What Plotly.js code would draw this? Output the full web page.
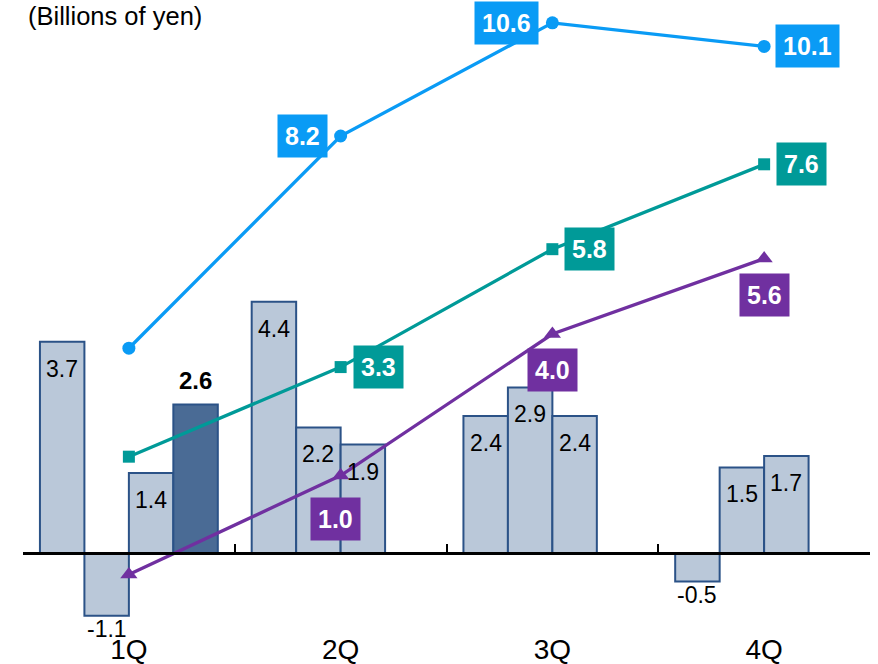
<!DOCTYPE html>
<html>
<head>
<meta charset="utf-8">
<script src="https://cdn.plot.ly/plotly-3.0.1.min.js"></script>
<style>
  html, body { margin: 0; padding: 0; background: #ffffff; }
  #chart { width: 878px; height: 664px; }
</style>
</head>
<body>
<div id="chart"></div>
<script>
// Quarterly results (billions of yen): three past fiscal years plus the current year
const quarters = ['1Q', '2Q', '3Q', '4Q'];

const yearA = [3.7, 4.4, 2.4, -0.5];
const yearB = [-1.1, 2.2, 2.9, 1.5];
const yearC = [1.4, 1.9, 2.4, 1.7];
const yearCurrent = [2.6, null, null, null];

// Cumulative totals by quarter
const cumA = [3.7, 8.2, 10.6, 10.1];
const cumC = [1.4, 3.3, 5.8, 7.6];
const cumB = [-1.1, 1.0, 4.0, 5.6];

const unitNote = '(Billions of yen)';

// ---- styling -------------------------------------------------------------
const FONT = 'Liberation Sans, Arial, sans-serif';
const BAR_FILL = '#BAC8D9';
const BAR_EDGE = '#2B5287';
const BAR_CURRENT = '#4A6B95';
const BLUE = '#0A9BF5';
const TEAL = '#009A98';
const PURPLE = '#7030A0';

const BAR_GAP = 0.16;
const SLOTS = 4;
const slotWidth = (1 - BAR_GAP) / SLOTS;

// value ranges of the two (hidden) vertical axes
const yRange = [-1.313, 9.51];
const y2Range = [-2.233, 10.872];

const barSeries = [
  { values: yearA, fill: BAR_FILL },
  { values: yearB, fill: BAR_FILL },
  { values: yearC, fill: BAR_FILL },
  { values: yearCurrent, fill: BAR_CURRENT, current: true }
];

const lineSeries = [
  { values: cumA, color: BLUE, symbol: 'circle', size: 13 },
  { values: cumC, color: TEAL, symbol: 'square', size: 12 },
  { values: cumB, color: PURPLE, symbol: 'triangle-up', size: 15 }
];

// where each cumulative label sits relative to its point (1Q points carry no label)
const lineLabelPlacement = [
  [null,
   { xanchor: 'right', yanchor: 'middle', xshift: -13, yshift: 0 },
   { xanchor: 'right', yanchor: 'middle', xshift: -13, yshift: 0 },
   { xanchor: 'left', yanchor: 'middle', xshift: 11, yshift: 0 }],
  [null,
   { xanchor: 'left', yanchor: 'middle', xshift: 12, yshift: 0 },
   { xanchor: 'left', yanchor: 'middle', xshift: 12, yshift: 0 },
   { xanchor: 'left', yanchor: 'middle', xshift: 12, yshift: 0 }],
  [null,
   { xanchor: 'center', yanchor: 'top', xshift: -5, yshift: -21 },
   { xanchor: 'center', yanchor: 'top', xshift: 0, yshift: -14 },
   { xanchor: 'center', yanchor: 'top', xshift: 0, yshift: -14 }]
];

const traces = [];
const annotations = [];

barSeries.forEach((s, slot) => {
  traces.push({
    type: 'bar',
    x: quarters,
    y: s.values,
    xaxis: 'x',
    yaxis: 'y',
    marker: { color: s.fill, line: { color: BAR_EDGE, width: 2 } },
    hoverinfo: 'skip'
  });
  s.values.forEach((v, qi) => {
    if (v === null) return;
    const xPos = qi + (slot - (SLOTS - 1) / 2) * slotWidth;
    let ann;
    if (s.current) {
      ann = { yanchor: 'bottom', yshift: 9, font: { family: FONT, size: 24, color: '#000' }, text: '<b>' + v.toFixed(1) + '</b>' };
    } else if (v >= 0) {
      ann = { yanchor: 'top', yshift: -12, font: { family: FONT, size: 23, color: '#000' }, text: v.toFixed(1) };
    } else {
      ann = { yanchor: 'top', yshift: 2, font: { family: FONT, size: 23, color: '#000' }, text: v.toFixed(1) };
    }
    annotations.push(Object.assign({
      xref: 'x', yref: 'y', x: xPos, y: v, xanchor: 'center',
      showarrow: false, borderpad: 1
    }, ann));
  });
});

// zero line with quarter dividers, on an overlay axis sitting at y = 0
traces.push({
  type: 'scatter', mode: 'markers',
  x: [-0.5, 3.5], y: [0, 0],
  xaxis: 'x2', yaxis: 'y',
  marker: { opacity: 0, size: 1 },
  hoverinfo: 'skip'
});

lineSeries.forEach((s, li) => {
  traces.push({
    type: 'scatter',
    mode: 'lines+markers',
    x: quarters,
    y: s.values,
    xaxis: 'x',
    yaxis: 'y2',
    line: { color: s.color, width: 3.3 },
    marker: { color: s.color, symbol: s.symbol, size: s.size },
    hoverinfo: 'skip'
  });
  s.values.forEach((v, qi) => {
    const p = lineLabelPlacement[li][qi];
    if (!p) return;
    annotations.push({
      xref: 'x', yref: 'y2', x: qi, y: v,
      xanchor: p.xanchor, yanchor: p.yanchor,
      xshift: p.xshift, yshift: p.yshift,
      text: '<b>' + v.toFixed(1) + '</b>',
      font: { family: FONT, size: 25, color: '#ffffff' },
      bgcolor: s.color,
      borderpad: 7,
      showarrow: false
    });
  });
});

annotations.push({
  xref: 'paper', yref: 'paper', x: 0, y: 1,
  xanchor: 'left', yanchor: 'top', xshift: 3, yshift: 10,
  text: unitNote,
  font: { family: FONT, size: 25.5, color: '#000' },
  showarrow: false
});

const zeroPosition = (0 - yRange[0]) / (yRange[1] - yRange[0]);

const layout = {
  width: 878,
  height: 664,
  margin: { l: 23, r: 8, t: 10, b: 36 },
  paper_bgcolor: '#ffffff',
  plot_bgcolor: '#ffffff',
  showlegend: false,
  hovermode: false,
  barmode: 'group',
  bargap: BAR_GAP,
  bargroupgap: 0,
  xaxis: {
    type: 'category',
    categoryorder: 'array',
    categoryarray: quarters,
    range: [-0.5, 3.5],
    showline: false,
    showgrid: false,
    zeroline: false,
    ticks: '',
    ticklabelstandoff: 2,
    tickfont: { family: FONT, size: 28, color: '#000' },
    fixedrange: true
  },
  xaxis2: {
    overlaying: 'x',
    anchor: 'free',
    position: zeroPosition,
    type: 'linear',
    range: [-0.5, 3.5],
    tickmode: 'array',
    tickvals: [-0.5, 0.5, 1.5, 2.5, 3.5],
    ticks: 'inside',
    ticklen: 8,
    tickwidth: 2,
    tickcolor: '#000',
    showticklabels: false,
    showline: true,
    linewidth: 3,
    linecolor: '#000',
    showgrid: false,
    zeroline: false,
    fixedrange: true
  },
  yaxis: {
    range: yRange,
    visible: false,
    fixedrange: true
  },
  yaxis2: {
    overlaying: 'y',
    side: 'right',
    range: y2Range,
    visible: false,
    fixedrange: true
  },
  annotations: annotations
};

Plotly.newPlot('chart', traces, layout, { staticPlot: true, displayModeBar: false });
</script>
</body>
</html>
